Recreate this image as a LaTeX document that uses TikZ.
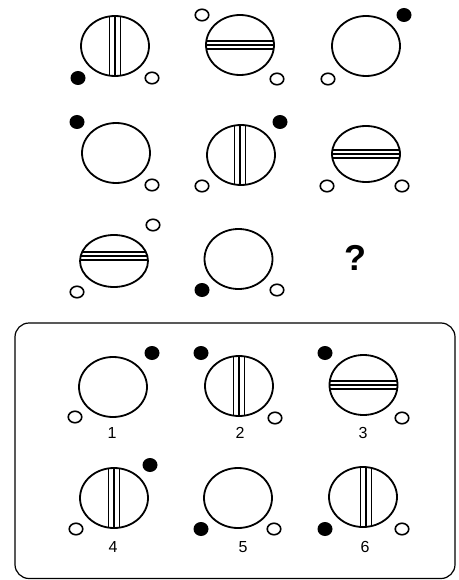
\documentclass[tikz,border=0pt]{standalone}
\usepackage{fontspec}
\setmainfont{Liberation Sans}
\usetikzlibrary{shapes.geometric, positioning}

\begin{document}
\begin{tikzpicture}[
        x=1pt, y=-1pt,
        face/.style={ellipse, draw, line width=1.8pt, minimum width=68pt, minimum height=60pt, inner sep=0pt},
        bar/.style={line width=1.4pt},
        vbars/.style={path picture={
            \foreach \d in {-5.5,0,5.5} {
                \draw[bar] ([xshift={(#1+\d)*1pt}]path picture bounding box.north) -- ([xshift={(#1+\d)*1pt}]path picture bounding box.south);
            }}},
        vbars/.default=0,
        hbars/.style={path picture={
            \foreach \d in {-4,0,4} {
                \draw[bar] ([yshift={(#1+\d)*1pt}]path picture bounding box.west) -- ([yshift={(#1+\d)*1pt}]path picture bounding box.east);
            }}},
        hbars/.default=0,
        blackdot/.style={ellipse, fill=black, minimum width=15pt, minimum height=14pt, inner sep=0pt},
        whitedot/.style={ellipse, draw, line width=1.6pt, minimum width=13.5pt, minimum height=11.5pt, inner sep=0pt},
        num/.style={font=\fontsize{16}{16}\selectfont, inner sep=0pt}
    ]
        \useasboundingbox (0,0) rectangle (458,580);

        % Row 1
        \node[face, vbars] (c11) at (115,46) {};
        \node[blackdot] (c11b) at (78,78) {};
        \node[whitedot] (c11w) at (152,78) {};

        \node[face, hbars] (c12) at (240,45) {};
        \node[whitedot] (c12a) at (202,15) {};
        \node[whitedot] (c12w) at (277,79) {};

        \node[face] (c13) at (366,46) {};
        \node[blackdot] (c13b) at (404,15) {};
        \node[whitedot] (c13w) at (328,79) {};

        % Row 2
        \node[face] (c21) at (116,153) {};
        \node[blackdot] (c21b) at (77,122) {};
        \node[whitedot] (c21w) at (152,185) {};

        \node[face, vbars=-1] (c22) at (241,155) {};
        \node[blackdot] (c22b) at (280,122) {};
        \node[whitedot] (c22w) at (202,186) {};

        \node[face, hbars, minimum height=56pt] (c23) at (366,154) {};
        \node[whitedot] (c23a) at (327,186) {};
        \node[whitedot] (c23w) at (402,186) {};

        % Row 3
        \node[face, hbars=5, minimum height=52pt] (c31) at (114,261) {};
        \node[whitedot] (c31a) at (153,225) {};
        \node[whitedot] (c31w) at (77,292) {};

        \node[face] (c32) at (238.5,259) {};
        \node[blackdot] (c32b) at (202,290) {};
        \node[whitedot] (c32w) at (277,290) {};

        \node[font=\fontsize{36}{36}\selectfont\bfseries, inner sep=0pt] (ask) at (355,258) {?};

        % Answer box
        \draw[line width=1.2pt, rounded corners=14pt] (15,323) rectangle (455,578.5);

        % Options 1--3
        \node[face] (o1) at (113,387) {};
        \node[blackdot] (o1b) at (152,353) {};
        \node[whitedot] (o1w) at (75,417) {};
        \node[num] (n1) at (112,433) {1};

        \node[face, vbars] (o2) at (239,386) {};
        \node[blackdot] (o2b) at (201,353) {};
        \node[whitedot] (o2w) at (275,418) {};
        \node[num] (n2) at (240,433) {2};

        \node[face, hbars] (o3) at (363.5,385) {};
        \node[blackdot] (o3b) at (325,353) {};
        \node[whitedot] (o3w) at (402,418) {};
        \node[num] (n3) at (363,433) {3};

        % Options 4--6
        \node[face, vbars] (o4) at (114,498) {};
        \node[blackdot] (o4b) at (150,465) {};
        \node[whitedot] (o4w) at (76,529) {};
        \node[num] (n4) at (113,547) {4};

        \node[face] (o5) at (238,498) {};
        \node[blackdot] (o5b) at (201,529) {};
        \node[whitedot] (o5w) at (274,529) {};
        \node[num] (n5) at (243,547) {5};

        \node[face, vbars=3] (o6) at (363,497) {};
        \node[blackdot] (o6b) at (325,529) {};
        \node[whitedot] (o6w) at (402,529) {};
        \node[num] (n6) at (365,547) {6};
    \end{tikzpicture}
\end{document}
